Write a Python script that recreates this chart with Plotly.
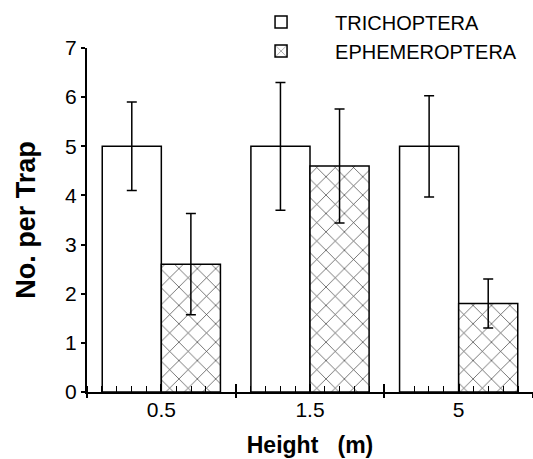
import plotly.graph_objects as go

heights = ["0.5", "1.5", "5"]
xpos = [0, 1, 2]
tri_mean = [5.0, 5.0, 5.0]
tri_err = [0.9, 1.3, 1.03]
eph_mean = [2.6, 4.6, 1.8]
eph_err = [1.03, 1.16, 0.5]

FONT = "Liberation Sans, Arial, Helvetica, sans-serif"

fig = go.Figure()
fig.add_trace(go.Bar(
    x=xpos, y=tri_mean, name="TRICHOPTERA",
    marker=dict(color="white", line=dict(color="black", width=1.5)),
    error_y=dict(type="data", array=tri_err, color="black", thickness=1.5, width=5),
))
fig.add_trace(go.Bar(
    x=xpos, y=eph_mean, name="EPHEMEROPTERA",
    marker=dict(color="white", line=dict(color="black", width=1.5),
                pattern=dict(shape="x", fgcolor="black", bgcolor="white",
                             size=13, solidity=0.1, fgopacity=0.8)),
    error_y=dict(type="data", array=eph_err, color="black", thickness=1.5, width=5),
))

fig.update_layout(
    width=533, height=459,
    margin=dict(l=87, r=0, t=48, b=67, autoexpand=False),
    paper_bgcolor="white", plot_bgcolor="white",
    barmode="group", bargap=0.205, bargroupgap=0,
    font=dict(family=FONT, color="black"),
    showlegend=True,
    legend=dict(x=0.314, y=1.132, xanchor="left", yanchor="top",
                font=dict(size=20, family=FONT), bgcolor="rgba(0,0,0,0)",
                tracegroupgap=0, itemwidth=98),
    xaxis=dict(range=[-0.5, 2.5], showgrid=False, zeroline=False, automargin=False,
               showline=True, linecolor="black", linewidth=2,
               tickmode="linear", tick0=-0.5, dtick=1,
               ticks="outside", ticklen=4, tickwidth=1.5,
               tickcolor="black", showticklabels=False,
               minor=dict(dtick=0.1, tick0=0, ticks="inside", ticklen=6,
                          tickwidth=1.3, tickcolor="black", showgrid=False)),
    xaxis2=dict(range=[-0.5, 2.5], overlaying="x", anchor="y", side="bottom",
                showgrid=False, zeroline=False, showline=False, automargin=False,
                tickvals=[0, 0.5, 1, 1.5, 2],
                ticktext=[heights[0], "", heights[1], "", heights[2]],
                ticks="inside", ticklen=8, tickwidth=1.5, tickcolor="black",
                tickfont=dict(size=21, family=FONT),
                ticklabelstandoff=3,
                title=dict(text="<b>Height&nbsp;&nbsp;&nbsp;(m)</b>",
                           font=dict(size=23, family=FONT), standoff=16)),
    yaxis=dict(range=[0, 7], showgrid=False, zeroline=False, automargin=False,
               showline=True, linecolor="black", linewidth=2,
               tickvals=[0, 1, 2, 3, 4, 5, 6, 7], ticks="outside", ticklen=4,
               tickwidth=1.5, tickcolor="black",
               tickfont=dict(size=21, family=FONT),
               title=dict(text="<b>No. per Trap</b>", font=dict(size=27, family=FONT),
                          standoff=22)),
)
fig.add_trace(go.Scatter(x=[0], y=[0], xaxis="x2", mode="markers",
                         marker=dict(opacity=0), showlegend=False, hoverinfo="skip"))

fig.write_html("out.html", post_script="document.body.style.margin='0';",
               config={"displayModeBar": False})
